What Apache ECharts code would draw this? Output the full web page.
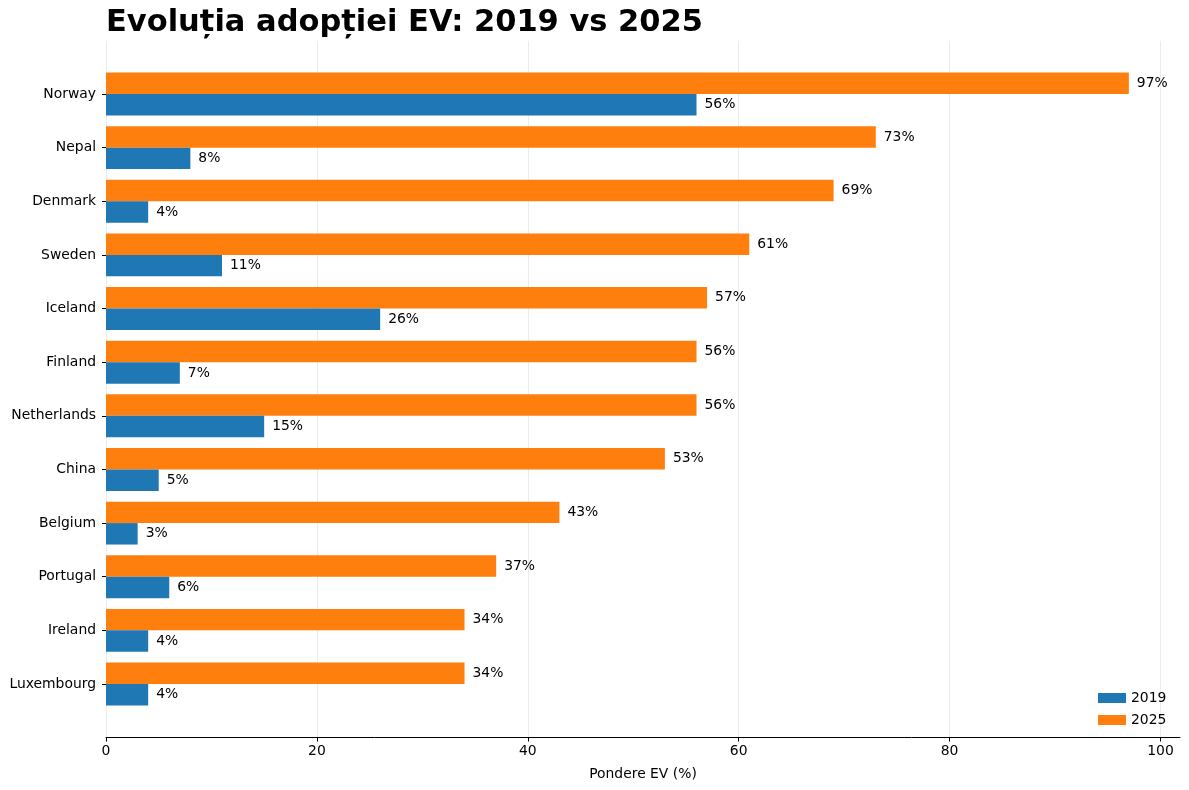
<!DOCTYPE html>
<html><head><meta charset="utf-8">
<script src="https://cdn.jsdelivr.net/npm/echarts@6/dist/echarts.min.js"></script>
<style>html,body{margin:0;padding:0;background:#fff}#c{width:1189px;height:790px}</style>
</head><body><div id="c"></div>
<script>
const categories = ['Norway','Nepal','Denmark','Sweden','Iceland','Finland','Netherlands','China','Belgium','Portugal','Ireland','Luxembourg'];
const values2019 = [56, 8, 4, 11, 26, 7, 15, 5, 3, 6, 4, 4];
const values2025 = [97, 73, 69, 61, 57, 56, 56, 53, 43, 37, 34, 34];
const xTicks = [0, 20, 40, 60, 80, 100];

const font = 'DejaVu Sans';
const chart = echarts.init(document.getElementById('c'));
const lbl = {show:true, position:'right', distance:8, formatter:'{c}%', color:'#000', fontSize:13.9, fontFamily:font, padding:[2,0,0,0]};
chart.setOption({
  animation:false,
  textStyle:{fontFamily:font},
  title:{text:'Evoluția adopției EV: 2019 vs 2025', left:101, top:3,
    textStyle:{fontSize:30.5, fontWeight:'bold', color:'#000', fontFamily:font}},
  legend:{orient:'vertical', left:1093, top:686, itemWidth:28, itemHeight:10, itemGap:8, icon:'rect',
    data:['2019','2025'], textStyle:{fontSize:13.9, color:'#000', fontFamily:font}},
  grid:[
    {left:106, right:9, top:67.2, bottom:79.2, containLabel:false},
    {left:106, right:9, top:41, bottom:52.5, containLabel:false}
  ],
  xAxis:[
    {gridIndex:0, type:'value', min:0, max:101.85, show:false},
    {gridIndex:1, type:'value', min:0, max:101.85,
      axisLine:{show:true, lineStyle:{color:'#000', width:1}},
      axisTick:{show:true, length:4, lineStyle:{color:'#000'}, customValues: xTicks},
      axisLabel:{color:'#000', fontSize:13.9, margin:7, fontFamily:font, customValues: xTicks},
      splitLine:{show:true, lineStyle:{color:'#ececec', width:1}},
      name:'Pondere EV (%)', nameLocation:'middle', nameGap:30,
      nameTextStyle:{color:'#000', fontSize:13.9, fontFamily:font}}
  ],
  yAxis:[
    {gridIndex:0, type:'category', data:categories, inverse:true,
      axisLine:{show:false},
      axisTick:{show:true, length:4, alignWithLabel:true, lineStyle:{color:'#000'}},
      axisLabel:{color:'#000', fontSize:13.9, margin:10, fontFamily:font, padding:[4,0,0,0]}},
    {gridIndex:1, type:'value', show:false, min:0, max:1}
  ],
  series:[
    {name:'2025', type:'bar', xAxisIndex:0, yAxisIndex:0, data:values2025, barGap:'0%', barCategoryGap:'20%',
      itemStyle:{color:'#ff7f0e'}, label:lbl},
    {name:'2019', type:'bar', xAxisIndex:0, yAxisIndex:0, data:values2019, barGap:'0%', barCategoryGap:'20%',
      itemStyle:{color:'#1f77b4'}, label:lbl}
  ]
});
</script></body></html>
